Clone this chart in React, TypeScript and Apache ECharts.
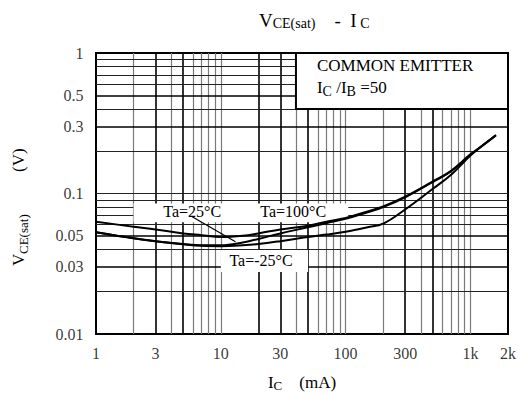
import React, { useEffect, useRef } from 'react';
import * as echarts from 'echarts';

// ---- data ----
const currentsMA = [1, 2, 3, 5, 7, 10, 15, 20, 30, 50, 70, 100, 150, 200, 300, 500, 700, 1000, 1300, 1600];
const vceTa100 = [0.063, 0.058, 0.0555, 0.052, 0.0505, 0.049, 0.05, 0.052, 0.0555, 0.059, 0.063, 0.067, 0.0745, 0.081, 0.095, 0.122, 0.145, 0.19, 0.225, 0.26];
const vceTa25 = [0.053, 0.048, 0.0458, 0.0437, 0.0428, 0.0428, 0.0448, 0.0475, 0.052, 0.0575, 0.0615, 0.066, 0.0735, 0.08, 0.094, 0.121, 0.144, 0.189, 0.225, 0.26];
const vceTaM25 = [0.053, 0.048, 0.0458, 0.0435, 0.0424, 0.0422, 0.0428, 0.0437, 0.0458, 0.049, 0.051, 0.0535, 0.0575, 0.061, 0.077, 0.108, 0.136, 0.186, 0.226, 0.26];

const xTickValues = [1, 3, 10, 30, 100, 300, 1000, 2000];
const xTickTexts = ['1', '3', '10', '30', '100', '300', '1k', '2k'];
const yTickValues = [1, 0.5, 0.3, 0.1, 0.05, 0.03, 0.01];
const yTickTexts = ['1', '0.5', '0.3', '0.1', '0.05', '0.03', '0.01'];

const xGridBold = [3, 5, 20, 30, 50, 300, 500];
const xGridThin = [2, 4, 6, 7, 8, 9, 10, 40, 60, 70, 80, 90, 100, 200, 400, 600, 700, 800, 900, 1000];
const yGridBold = [0.03, 0.05, 0.3, 0.5];
const yGridThin = [0.02, 0.04, 0.06, 0.07, 0.08, 0.09, 0.1, 0.2, 0.4, 0.6, 0.7, 0.8, 0.9];

// boxes in data coordinates: [x1, y1, x2, y2]
const noteBox = [40, 0.4, 2000, 1];
const labelBox1 = [2, 0.0625, 105, 0.085];
const labelBox2 = [10, 0.0276, 50, 0.0396];

const curveLabels = ['Ta=25°C', 'Ta=100°C', 'Ta=-25°C'];
const curveLabelPos = [[5.9, 0.0744], [38, 0.0744], [21, 0.0336]];
const leaderTa25 = [[5.9, 0.0683], [13.1, 0.0454]];

const FONT = 'Liberation Serif';

export default function App() {
  const ref = useRef<HTMLDivElement>(null);

  useEffect(() => {
    if (!ref.current) return;
    const chart = echarts.init(ref.current, null, { renderer: 'svg' });

    const sub = { fontFamily: FONT, fontWeight: 'normal', fontSize: 13, color: '#000', lineHeight: 20, verticalAlign: 'top', padding: [5, 0, 0, 0] };
    const nrm = (size: number) => ({ fontFamily: FONT, fontWeight: 'normal', fontSize: size, color: '#000', lineHeight: 20, verticalAlign: 'top' });

    const gridLines = [
      ...xGridThin.map((v) => ({ xAxis: v, lineStyle: { color: '#7a7a7a', width: 1.2, type: 'solid' } })),
      ...xGridBold.map((v) => ({ xAxis: v, lineStyle: { color: '#000', width: 1.6, type: 'solid' } })),
      ...yGridThin.map((v) => ({ yAxis: v, lineStyle: { color: '#222', width: 1, type: 'solid' } })),
      ...yGridBold.map((v) => ({ yAxis: v, lineStyle: { color: '#000', width: 1.6, type: 'solid' } })),
    ];

    const box = (b: number[], extra: any = {}) => [
      { coord: [b[0], b[1]], ...extra },
      { coord: [b[2], b[3]] },
    ];

    const curve = (vals: number[]) => ({
      type: 'line',
      z: 3,
      smooth: 0.4,
      symbol: 'none',
      silent: true,
      clip: true,
      lineStyle: { color: '#000', width: 2 },
      data: currentsMA.map((x, i) => [x, vals[i]]),
    });

    const tickLabel = {
      show: true,
      color: '#000',
      fontFamily: FONT,
      fontSize: 16,
      formatter: '{b}',
    };

    const vText = (text: string, x: number, y: number, size: number) => ({
      type: 'text',
      x,
      y,
      rotation: Math.PI / 2,
      style: { text, fontFamily: FONT, fontSize: size, fill: '#000' },
    });

    chart.setOption({
      animation: false,
      backgroundColor: '#fff',
      title: {
        left: 254,
        top: 6,
        text: '{v|V}{s|CE(sat)}{v|    -  I}{s| C}',
        textStyle: {
          fontWeight: 'normal',
          rich: {
            v: { fontFamily: FONT, fontWeight: 'normal', fontSize: 19, color: '#000', lineHeight: 22, verticalAlign: 'top' },
            s: { fontFamily: FONT, fontWeight: 'normal', fontSize: 14, color: '#000', lineHeight: 22, verticalAlign: 'top', padding: [5, 0, 0, 0] },
          },
        },
      },
      graphic: [
        vText('V', 10, 266, 17),
        vText('CE(sat)', 17, 254, 13),
        vText('(V)', 10, 172, 17),
      ],
      grid: { left: 96, right: 20, top: 53, bottom: 73, show: true, borderColor: '#000', borderWidth: 2, backgroundColor: '#fff' },
      xAxis: {
        type: 'log',
        logBase: 10,
        min: 1,
        max: 2000,
        axisLine: { show: false },
        axisTick: { show: false },
        axisLabel: { show: false },
        splitLine: { show: false },
        name: '{n|I}{s|C}{n|    (mA)}',
        nameLocation: 'middle',
        nameGap: 40,
        nameTextStyle: { rich: { n: nrm(17), s: sub } },
      },
      yAxis: {
        type: 'log',
        logBase: 10,
        min: 0.01,
        max: 1,
        axisLine: { show: false },
        axisTick: { show: false },
        axisLabel: { show: false },
        splitLine: { show: false },
      },
      series: [
        {
          type: 'line',
          name: 'grid',
          z: 1,
          silent: true,
          symbol: 'none',
          lineStyle: { width: 0 },
          data: [[1, 0.01]],
          markLine: {
            silent: true,
            z: 1,
            symbol: ['none', 'none'],
            animation: false,
            label: { show: false },
            emphasis: { disabled: true },
            data: gridLines,
          },
        },
        {
          type: 'line',
          name: 'boxes',
          z: 2,
          silent: true,
          symbol: 'none',
          lineStyle: { width: 0 },
          data: [[1, 0.01]],
          markArea: {
            silent: true,
            z: 2,
            itemStyle: { color: '#fff', borderWidth: 0 },
            label: { show: false },
            emphasis: { disabled: true },
            data: [
              box(noteBox, {
                itemStyle: { color: '#fff', borderColor: '#000', borderWidth: 2 },
                label: {
                  show: true,
                  position: 'insideTopLeft',
                  distance: 5,
                  padding: [0, 0, 0, 17],
                  formatter: '{n|COMMON EMITTER}\n{n|I}{s|C}{n| /I}{s|B}{n| =50}',
                  rich: {
                    n: { fontFamily: FONT, fontSize: 17, color: '#000', lineHeight: 22, verticalAlign: 'top' },
                    s: { fontFamily: FONT, fontSize: 14, color: '#000', lineHeight: 22, verticalAlign: 'top', padding: [5, 0, 0, 0] },
                  },
                },
              }),
              box(labelBox1),
              box(labelBox2),
            ],
          },
        },
        { ...curve(vceTa100), name: 'Ta=100°C' },
        { ...curve(vceTa25), name: 'Ta=25°C' },
        { ...curve(vceTaM25), name: 'Ta=-25°C' },
        {
          type: 'line',
          name: 'labels',
          z: 4,
          silent: true,
          symbol: 'none',
          lineStyle: { width: 0 },
          data: [[1, 0.01]],
          markLine: {
            silent: true,
            z: 4,
            symbol: ['none', 'none'],
            label: { show: false },
            lineStyle: { color: '#000', width: 1.2, type: 'solid' },
            emphasis: { disabled: true },
            data: [[{ coord: leaderTa25[0] }, { coord: leaderTa25[1] }]],
          },
          markPoint: {
            silent: true,
            z: 5,
            symbol: 'circle',
            symbolSize: 1,
            itemStyle: { color: 'rgba(0,0,0,0)' },
            label: {
              show: true,
              position: 'inside',
              color: '#000',
              fontFamily: FONT,
              fontSize: 16,
              formatter: '{b}',
            },
            emphasis: { disabled: true },
            data: curveLabels.map((t, i) => ({ name: t, coord: curveLabelPos[i] })),
          },
        },
        {
          type: 'scatter',
          name: 'xTicks',
          z: 6,
          silent: true,
          clip: false,
          symbol: 'circle',
          symbolSize: 1,
          itemStyle: { color: 'rgba(0,0,0,0)' },
          label: { ...tickLabel, position: 'bottom', distance: 11 },
          emphasis: { disabled: true },
          data: xTickValues.map((v, i) => ({ name: xTickTexts[i], value: [v, 0.01] })),
        },
        {
          type: 'scatter',
          name: 'yTicks',
          z: 6,
          silent: true,
          clip: false,
          symbol: 'circle',
          symbolSize: 1,
          itemStyle: { color: 'rgba(0,0,0,0)' },
          label: { ...tickLabel, position: 'left', distance: 12 },
          emphasis: { disabled: true },
          data: yTickValues.map((v, i) => ({ name: yTickTexts[i], value: [1, v] })),
        },
      ],
    });

    return () => chart.dispose();
  }, []);

  return <div ref={ref} style={{ position: 'fixed', left: 0, top: 0, width: 528, height: 407 }} />;
}
